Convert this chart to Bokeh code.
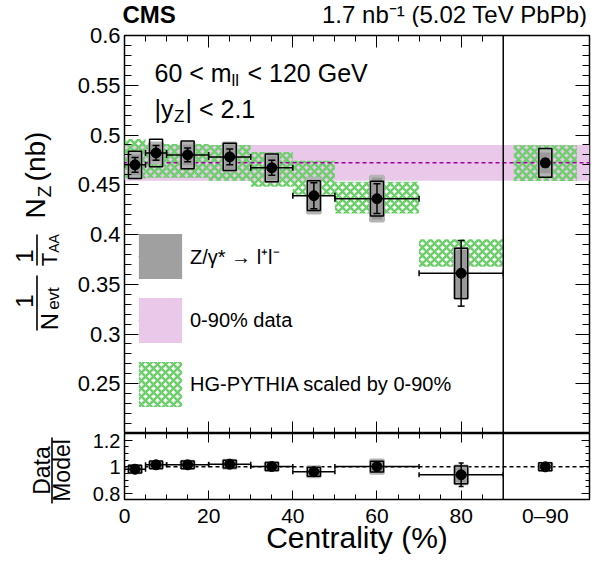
import numpy as np
from bokeh.plotting import figure
from bokeh.core.properties import value
from bokeh.models import (Range1d, LinearAxis, FixedTicker, Label, Whisker, TeeHead,
                          Span, Legend, LegendItem, ColumnDataSource, CustomLabelingPolicy)
from bokeh.layouts import column, row
from bokeh.embed import file_html
from bokeh.resources import INLINE

FONT = "Liberation Sans"

# ---------------- data ----------------
bin_lo = [0, 5, 10, 20, 30, 40, 50, 70]
bin_hi = [5, 10, 20, 30, 40, 50, 70, 90]
bin_mid = [2.5, 7.5, 15, 25, 35, 45, 60, 80]
nz = [0.470, 0.482, 0.480, 0.478, 0.467, 0.439, 0.436, 0.361]
nz_stat = [0.0075, 0.0075, 0.007, 0.008, 0.0075, 0.013, 0.015, 0.033]
nz_syst = [0.0137, 0.0138, 0.014, 0.0137, 0.014, 0.015, 0.0175, 0.0253]
nz_syst2 = [0.012, 0.010, 0.012, 0.014, 0.014, 0.0175, 0.0225, 0.025]
model = [0.476, 0.474, 0.474, 0.472, 0.4655, 0.457, 0.437, 0.3815]
model_err = [0.020, 0.017, 0.017, 0.018, 0.0175, 0.017, 0.016, 0.0138]
ratio = [0.982, 1.015, 1.015, 1.020, 1.002, 0.963, 1.002, 0.940]
ratio_stat = [0.016, 0.016, 0.015, 0.017, 0.016, 0.029, 0.034, 0.088]
ratio_syst = [0.029, 0.029, 0.029, 0.029, 0.030, 0.033, 0.040, 0.066]
ratio_syst2 = [0.026, 0.022, 0.026, 0.030, 0.030, 0.038, 0.050, 0.066]

# integrated 0-90% point
int_x = 100
int_half = 7.5
int_nz, int_stat, int_syst, int_syst2 = 0.472, 0.004, 0.0145, 0.012
int_model, int_model_err = 0.4717, 0.018
int_ratio, int_ratio_stat, int_ratio_syst, int_ratio_syst2 = 1.0, 0.009, 0.030, 0.026
band_val, band_err = 0.472, 0.018

X0, X1 = 0, 110.5
Y0, Y1 = 0.2, 0.6
x_major = [0, 20, 40, 60, 80]
x_minor = [5, 10, 15, 25, 30, 35, 45, 50, 55, 65, 70, 75, 85]
y_major = [0.25, 0.3, 0.35, 0.4, 0.45, 0.5, 0.55, 0.6]
y_labels = {0.25: "0.25", 0.3: "0.3", 0.35: "0.35", 0.4: "0.4", 0.45: "0.45",
            0.5: "0.5", 0.55: "0.55", 0.6: "0.6"}
y_minor = [round(0.20 + 0.01 * i, 2) for i in range(1, 40)]
r_major = [0.8, 1.0, 1.2]
r_labels = {0.8: "0.8", 1.0: "1", 1.2: "1.2"}
r_minor = [0.85, 0.9, 0.95, 1.05, 1.1, 1.15]
bottom_ticks = [0, 20, 40, 60, 80, 100]
bottom_labels = {0: "0", 20: "20", 40: "40", 60: "60", 80: "80", 100: "0\u201390"}

# layout (pixels)
LEFT_W = 74          # width of the y-title strip
HEAD_H = 27          # height of the header strip
TOP_B = 8            # space above the main frame (room for the top tick label)
FRAME_W, FRAME_H = 467, 398
BL, BR = 48, 2       # borders left / right of the panels
RAT_H, RAT_B = 129, 63
TOTAL_H = HEAD_H + TOP_B + FRAME_H + RAT_H
DY = HEAD_H + TOP_B - 33   # offset of the whole drawing relative to the reference

# ---------------- helpers ----------------
def style_axis(ax, tin, tmin, size=None, standoff=4):
    ax.axis_line_color = None
    ax.major_tick_in = tin
    ax.major_tick_out = 0
    ax.minor_tick_in = tmin
    ax.minor_tick_out = 0
    ax.major_tick_line_color = "black"
    ax.minor_tick_line_color = "black"
    ax.major_tick_line_width = 1
    ax.minor_tick_line_width = 1
    if size is None:
        ax.major_label_policy = CustomLabelingPolicy(code="")
        ax.major_label_text_font_size = "0px"
        ax.major_label_standoff = 0
        ax.axis_label_standoff = 0
    else:
        ax.major_label_text_font_size = f"{size}px"
        ax.major_label_text_font = FONT
        ax.major_label_text_color = "black"
        ax.major_label_standoff = standoff


def lab(fig, text, x, y, size, align="left"):
    fig.add_layout(Label(x=x, y=y, x_units="screen", y_units="screen", text=text,
                         text_font=FONT, text_font_size=f"{size}px", text_align=align,
                         text_baseline="middle", text_color="black"))


def helper(w, h, x0, x1, y_top, y_bottom):
    f = figure(width=w, height=h, x_range=Range1d(x0, x1), y_range=Range1d(y_bottom, y_top),
               output_backend="svg", toolbar_location=None, x_axis_location=None,
               y_axis_location=None, min_border=0, title=None)
    f.outline_line_color = None
    f.grid.visible = False
    return f


def txt(f, x, y, s, size, align="center", angle=0.0, bold=False):
    f.text(x=[x], y=[y + DY], text=[s], text_font=value(FONT),
           text_font_size=value(f"{size}px"), text_align=align, text_baseline="middle",
           angle=angle, text_color="black", text_font_style="bold" if bold else "normal")


def vbar_line(f, x, y0, y1):
    f.segment(x0=[x], y0=[y0 + DY], x1=[x], y1=[y1 + DY], line_color="black", line_width=1.6)


def sx(px):   # frame-relative pixels -> data x of the main panel
    return X0 + px * (X1 - X0) / FRAME_W


def sy(py):   # frame-relative pixels (from bottom) -> data y of the main panel
    return Y0 + py * (Y1 - Y0) / FRAME_H


xr = Range1d(X0, X1)
A = np.pi / 2

# ---------------- header ----------------
head = helper(591, HEAD_H, 0, 591, 0, HEAD_H)
head.text(x=[122], y=[13.5], text=["CMS"], text_font=value(FONT), text_font_size=value("24px"),
          text_font_style="bold", text_align="left", text_baseline="middle", text_color="black")
head.text(x=[587], y=[13.5], text=["1.7 nb\u207b\u00b9 (5.02 TeV PbPb)"], text_font=value(FONT),
          text_font_size=value("24px"), text_align="right", text_baseline="middle",
          text_color="black")

# ---------------- y titles (one strip for both panels) ----------------
left = helper(LEFT_W, TOTAL_H - HEAD_H, 0, LEFT_W, HEAD_H, TOTAL_H)
txt(left, 24, 298.5, "1", 24, angle=A)
vbar_line(left, 36.5, 273, 328)
txt(left, 48.5, 319, "N", 24, angle=A)
txt(left, 53, 296, "evt", 17, angle=A)
txt(left, 24, 253.5, "1", 24, angle=A)
vbar_line(left, 36.5, 232, 263)
txt(left, 48.5, 257, "T", 22, angle=A)
txt(left, 53, 241, "AA", 14, angle=A)
txt(left, 35, 206, "N", 28, angle=A)
txt(left, 43.5, 189, "Z", 19, angle=A)
txt(left, 35, 154, "(nb)", 28, angle=A)
txt(left, 41.5, 468, "Data", 23, angle=A)
vbar_line(left, 51.5, 435, 501)
txt(left, 61, 468, "Model", 23, angle=A)

# ---------------- main panel ----------------
p = figure(width=BL + FRAME_W + BR, height=TOP_B + FRAME_H, x_range=xr,
           y_range=Range1d(Y0, Y1), output_backend="svg", toolbar_location=None, title=None,
           x_axis_location=None, y_axis_location=None,
           min_border_left=BL, min_border_right=BR, min_border_top=TOP_B, min_border_bottom=0)
p.grid.visible = False
p.outline_line_color = "black"
p.outline_line_width = 1.5

yt = FixedTicker(ticks=y_major, minor_ticks=y_minor)
xt = FixedTicker(ticks=x_major, minor_ticks=x_minor)
ax = LinearAxis(ticker=yt, major_label_overrides=y_labels)
style_axis(ax, 14, 7, 22, 4)
p.add_layout(ax, "left")
ax = LinearAxis(ticker=yt)
style_axis(ax, 14, 7)
p.add_layout(ax, "right")
ax = LinearAxis(ticker=xt)
style_axis(ax, 12, 6)
p.add_layout(ax, "above")
ax = LinearAxis(ticker=xt)
style_axis(ax, 12, 6)
p.add_layout(ax, "below")

band = p.varea(x=[X0, X1], y1=[band_val - band_err] * 2, y2=[band_val + band_err] * 2,
               fill_color="#eac8ea")
mx = bin_mid + [int_x]
mw = [h - l for l, h in zip(bin_lo, bin_hi)] + [2 * int_half]
my = model + [int_model]
mh = [2 * e for e in model_err] + [2 * int_model_err]
hatch = p.rect(x=mx, y=my, width=mw, height=mh, fill_alpha=0, line_color=None,
               hatch_pattern="diagonal_cross", hatch_color="#6ccf6c", hatch_scale=8,
               hatch_weight=2.6)
dline = p.line(x=[X0, X1], y=[band_val] * 2, line_color="#a000a0", line_dash="4 3",
               line_width=1.5)

px_ = bin_mid + [int_x]
py_ = nz + [int_nz]
p.rect(x=px_, y=py_, width=13, width_units="screen",
       height=[2 * e for e in nz_syst2] + [2 * int_syst2],
       fill_color="#999999", line_color="#b4b4b4", line_width=3)
p.rect(x=px_, y=py_, width=13, width_units="screen",
       height=[2 * e for e in nz_syst] + [2 * int_syst],
       fill_alpha=0, line_color="black", line_width=1.5)
vs = ColumnDataSource(dict(x=px_, lo=[v - e for v, e in zip(py_, nz_stat + [int_stat])],
                           hi=[v + e for v, e in zip(py_, nz_stat + [int_stat])]))
p.add_layout(Whisker(source=vs, base="x", lower="lo", upper="hi", dimension="height",
                     line_color="black", line_width=1.5, level="annotation",
                     upper_head=TeeHead(size=7, line_width=1.5),
                     lower_head=TeeHead(size=7, line_width=1.5)))
hs = ColumnDataSource(dict(y=nz, lo=bin_lo, hi=bin_hi))
p.add_layout(Whisker(source=hs, base="y", lower="lo", upper="hi", dimension="width",
                     line_color="black", line_width=1.5, level="annotation",
                     upper_head=TeeHead(size=6, line_width=1.5),
                     lower_head=TeeHead(size=6, line_width=1.5)))
p.scatter(x=px_, y=py_, size=10, fill_color="black", line_color="black")
p.add_layout(Span(location=90, dimension="height", line_color="black", line_width=1.5))

# legend
leg_box = p.rect(x=bin_mid[:1], y=nz[:1], width=1, height=0.01, fill_color="#a0a0a0",
                 line_color=None, visible=False)
legend = Legend(items=[
    LegendItem(label="Z/\u03b3* \u2192 l\u207al\u207b", renderers=[leg_box]),
    LegendItem(label="0-90% data", renderers=[band]),
    LegendItem(label="HG-PYTHIA scaled by 0-90%", renderers=[hatch]),
], location=(9, 21), orientation="vertical", glyph_width=54, glyph_height=56, spacing=8,
    label_standoff=3, padding=0, margin=0, border_line_color=None, background_fill_alpha=0,
    label_text_font=FONT, label_text_font_size="20px", label_text_color="black",
    label_height=20)
p.add_layout(legend)
# strokes drawn on top of the legend swatches (legend box geometry -> data units)
p.segment(x0=[sx(14.4)], y0=[sy(177)], x1=[sx(57.6)], y1=[sy(177)], line_color="black",
          line_width=1.5, level="overlay")
p.segment(x0=[sx(14.4)], y0=[sy(113)], x1=[sx(57.6)], y1=[sy(113)], line_color="#a000a0",
          line_width=1.5, line_dash="4 3", level="overlay")
lw = ColumnDataSource(dict(b=[sx(36)], l=[sy(157.5)], u=[sy(196.5)]))
p.add_layout(Whisker(source=lw, base="b", lower="l", upper="u", dimension="height",
                     line_color="black", line_width=1.5, level="overlay",
                     upper_head=TeeHead(size=8, line_width=1.5),
                     lower_head=TeeHead(size=8, line_width=1.5)))
p.scatter(x=[sx(36)], y=[sy(177)], size=10, fill_color="black", line_color="black",
          level="overlay")

# selection text
lab(p, "60 < m", 30, 361, 25)
lab(p, "ll", 107, 353, 17)
lab(p, "< 120 GeV", 123, 361, 25)
lab(p, "|y", 30, 325, 25)
lab(p, "Z", 49.5, 317, 17)
lab(p, "| < 2.1", 61, 325, 25)

# ---------------- ratio panel ----------------
q = figure(width=BL + FRAME_W + BR, height=RAT_H, x_range=xr, y_range=Range1d(0.755, 1.25),
           output_backend="svg", toolbar_location=None, title=None,
           x_axis_location=None, y_axis_location=None,
           min_border_left=BL, min_border_right=BR, min_border_top=0, min_border_bottom=RAT_B)
q.grid.visible = False
q.outline_line_color = "black"
q.outline_line_width = 1.5

rt = FixedTicker(ticks=r_major, minor_ticks=r_minor)
ax = LinearAxis(ticker=rt, major_label_overrides=r_labels)
style_axis(ax, 8, 4, 20, 4)
q.add_layout(ax, "left")
ax = LinearAxis(ticker=rt)
style_axis(ax, 8, 4)
q.add_layout(ax, "right")
ax = LinearAxis(ticker=xt)
style_axis(ax, 9, 5)
q.add_layout(ax, "above")
ax = LinearAxis(ticker=xt)
style_axis(ax, 9, 5)
q.add_layout(ax, "below")
ax = LinearAxis(ticker=FixedTicker(ticks=bottom_ticks, minor_ticks=[]),
                major_label_overrides=bottom_labels, axis_label="Centrality (%)")
style_axis(ax, 0, 0, 21, 4)
ax.axis_label_text_font = FONT
ax.axis_label_text_font_size = "30px"
ax.axis_label_text_font_style = "normal"
ax.axis_label_text_color = "black"
ax.axis_label_standoff = -9
q.add_layout(ax, "below")

q.add_layout(Span(location=1, dimension="width", line_color="black", line_dash="4 3",
                  line_width=1.5, level="underlay"))
ry = ratio + [int_ratio]
q.rect(x=px_, y=ry, width=13, width_units="screen",
       height=[2 * e for e in ratio_syst2] + [2 * int_ratio_syst2],
       fill_color="#999999", line_color="#b4b4b4", line_width=3)
q.rect(x=px_, y=ry, width=13, width_units="screen",
       height=[2 * e for e in ratio_syst] + [2 * int_ratio_syst],
       fill_alpha=0, line_color="black", line_width=1.5)
rvs = ColumnDataSource(dict(x=px_, lo=[v - e for v, e in zip(ry, ratio_stat + [int_ratio_stat])],
                            hi=[v + e for v, e in zip(ry, ratio_stat + [int_ratio_stat])]))
q.add_layout(Whisker(source=rvs, base="x", lower="lo", upper="hi", dimension="height",
                     line_color="black", line_width=1.5, level="annotation",
                     upper_head=TeeHead(size=5, line_width=1.5),
                     lower_head=TeeHead(size=5, line_width=1.5)))
rhs = ColumnDataSource(dict(y=ratio, lo=bin_lo, hi=bin_hi))
q.add_layout(Whisker(source=rhs, base="y", lower="lo", upper="hi", dimension="width",
                     line_color="black", line_width=1.5, level="annotation",
                     upper_head=TeeHead(size=5, line_width=1.5),
                     lower_head=TeeHead(size=5, line_width=1.5)))
q.scatter(x=px_, y=ry, size=10, fill_color="black", line_color="black")
q.add_layout(Span(location=90, dimension="height", line_color="black", line_width=1.5))

layout = column(head, row(left, column(p, q)))
open("out.html", "w").write(file_html(layout, INLINE))
